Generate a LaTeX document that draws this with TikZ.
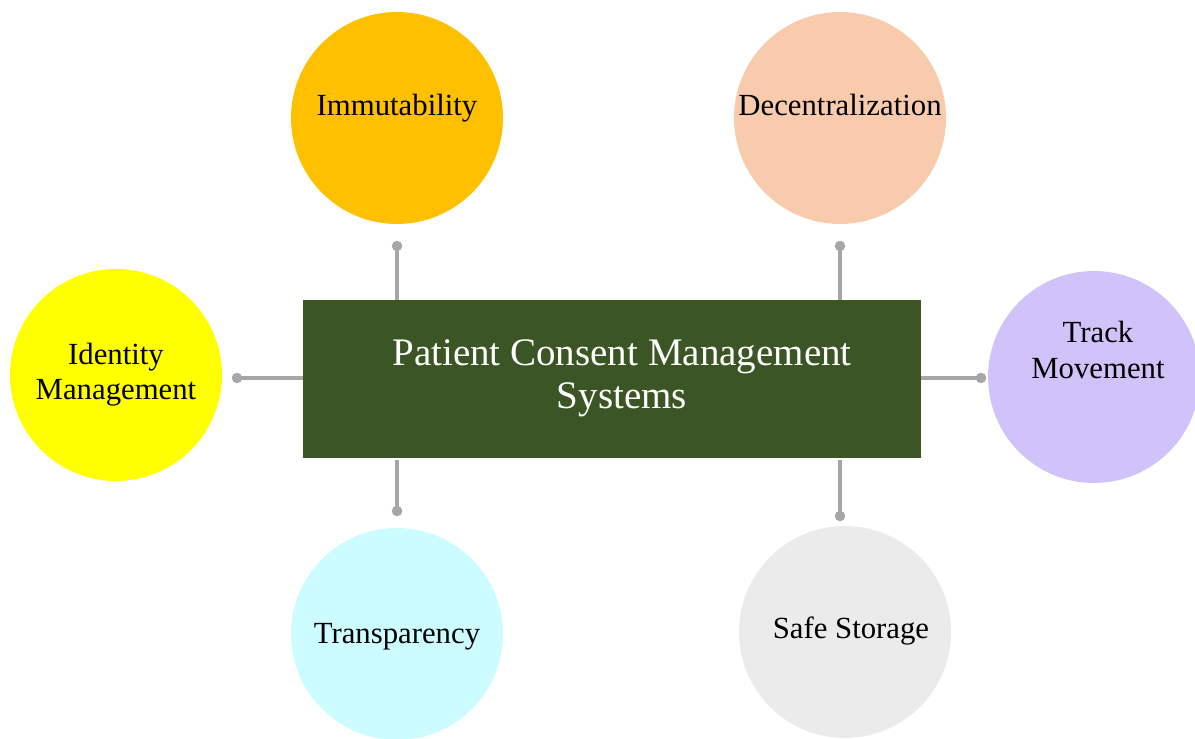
\documentclass[tikz,border=0pt]{standalone}
\usepackage{fontspec}
\setmainfont{Liberation Serif}
\usepackage{tikz}

\definecolor{boxgreen}{HTML}{3B5524}
\definecolor{linegray}{HTML}{A6A6A6}
\definecolor{immutcolor}{HTML}{FFC000}
\definecolor{decentcolor}{HTML}{F8CBAD}
\definecolor{identcolor}{HTML}{FFFF00}
\definecolor{trackcolor}{HTML}{D2C2FA}
\definecolor{transcolor}{HTML}{CCFCFF}
\definecolor{safecolor}{HTML}{EBEBEB}

\begin{document}
\begin{tikzpicture}[x=0.02cm, y=-0.02cm]
    \tikzstyle{circle_style} = [circle, minimum size=4.24cm, inner sep=0pt]
    \tikzstyle{text_style} = [align=center, text=black, font=\fontsize{17.5}{20}\selectfont]
    \tikzstyle{box_style} = [rectangle, fill=boxgreen, minimum width=12.36cm, minimum height=3.16cm]
    \tikzstyle{title_style} = [text=white, align=center, font=\fontsize{22.2}{24.5}\selectfont]
    \tikzstyle{dot_style} = [circle, fill=linegray, minimum size=0.21cm, inner sep=0pt]
    \tikzstyle{edge_style} = [linegray, line width=2.2pt]

    \useasboundingbox (0,0) rectangle (1195,739);

    \node[box_style] (pcms) at (612,379) {};
    \node[title_style] (pcms_text) at (622,378) {Patient Consent Management\\Systems};

    \node[circle_style, fill=immutcolor] (immut) at (397,118) {};
    \node[circle_style, fill=decentcolor] (decent) at (840,118) {};
    \node[circle_style, fill=identcolor] (ident) at (116,375) {};
    \node[circle_style, fill=trackcolor] (track) at (1094,377) {};
    \node[circle_style, fill=transcolor] (trans) at (397,634) {};
    \node[circle_style, fill=safecolor] (safe) at (845,632) {};

    \node[text_style] (immut_text) at (397,108) {Immutability};
    \node[text_style] (decent_text) at (840,105) {Decentralization};
    \node[text_style] (ident_text) at (116,375) {Identity\\Management};
    \node[text_style] (track_text) at (1098,350) {Track\\Movement};
    \node[text_style] (trans_text) at (397,637) {Transparency};
    \node[text_style] (safe_text) at (851,631) {Safe Storage};

    \node[dot_style] (d1) at (397,246) {};
    \node[dot_style] (d2) at (840,246) {};
    \node[dot_style] (d3) at (237,378) {};
    \node[dot_style] (d4) at (981,378) {};
    \node[dot_style] (d5) at (397,511) {};
    \node[dot_style] (d6) at (840,516) {};

    \draw[edge_style] (d1.center) -- (d1 |- pcms.north);
    \draw[edge_style] (d2.center) -- (d2 |- pcms.north);
    \draw[edge_style] (d3.center) -- (d3 -| pcms.west);
    \draw[edge_style] (d4.center) -- (d4 -| pcms.east);
    \draw[edge_style] (d5.center) -- ([yshift=-0.04cm]d5 |- pcms.south);
    \draw[edge_style] (d6.center) -- ([yshift=-0.04cm]d6 |- pcms.south);
\end{tikzpicture}
\end{document}
